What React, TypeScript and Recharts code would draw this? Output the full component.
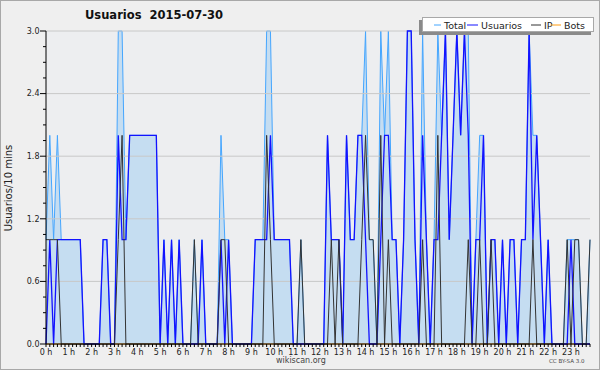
import React from 'react';
import { ComposedChart, Area, Line, XAxis, YAxis, CartesianGrid, ReferenceLine } from 'recharts';

// one sample every 10 minutes, 2015-07-30
const hours = ['0', '1', '2', '3', '4', '5', '6', '7', '8', '9', '10', '11',
  '12', '13', '14', '15', '16', '17', '18', '19', '20', '21', '22', '23'];
const minutes = ['00', '10', '20', '30', '40', '50'];
const slots = hours.flatMap((h) => minutes.map((m) => `${h.padStart(2, '0')}:${m}`));
const hourLabels = hours.map((h) => `${h} h`);

const total = [
  1, 2, 1, 2, 1, 1, 1, 1, 1, 1, 0, 0,
  0, 0, 0, 1, 1, 0, 0, 3, 3, 1, 2, 2,
  2, 2, 2, 2, 2, 2, 0, 1, 0, 1, 0, 1,
  0, 0, 0, 1, 0, 1, 0, 0, 0, 0, 2, 1,
  1, 0, 0, 0, 0, 0, 0, 1, 1, 1, 3, 3,
  1, 1, 1, 1, 1, 0, 0, 1, 0, 0, 0, 0,
  0, 0, 2, 1, 1, 1, 0, 2, 1, 1, 2, 2,
  3, 1, 1, 0, 3, 2, 3, 1, 1, 0, 1, 3,
  3, 1, 0, 3, 1, 0, 1, 3, 2, 3, 1, 2,
  3, 2, 3, 3, 0, 1, 2, 2, 0, 1, 1, 0,
  1, 0, 1, 1, 0, 1, 1, 3, 2, 2, 1, 0,
  1, 0, 0, 0, 0, 1, 1, 1, 1, 0, 0, 1,
];

const usuarios = [
  0, 1, 0, 1, 1, 1, 1, 1, 1, 1, 0, 0,
  0, 0, 0, 1, 1, 0, 0, 2, 1, 1, 2, 2,
  2, 2, 2, 2, 2, 2, 0, 1, 0, 1, 0, 1,
  0, 0, 0, 0, 0, 1, 0, 0, 0, 0, 1, 0,
  1, 0, 0, 0, 0, 0, 0, 1, 1, 1, 1, 2,
  1, 1, 1, 1, 1, 0, 0, 0, 0, 0, 0, 0,
  0, 0, 2, 1, 1, 1, 0, 2, 1, 1, 2, 2,
  1, 0, 0, 0, 1, 2, 2, 1, 1, 0, 1, 3,
  3, 1, 0, 2, 1, 0, 1, 1, 2, 3, 1, 2,
  3, 2, 3, 2, 0, 1, 1, 2, 0, 1, 1, 0,
  1, 0, 1, 1, 0, 1, 1, 3, 1, 2, 1, 0,
  1, 0, 0, 0, 0, 0, 1, 0, 0, 0, 0, 0,
];

const ip = [
  1, 1, 1, 1, 0, 0, 0, 0, 0, 0, 0, 0,
  0, 0, 0, 0, 0, 0, 0, 1, 2, 0, 0, 0,
  0, 0, 0, 0, 0, 0, 0, 0, 0, 0, 0, 0,
  0, 0, 0, 1, 0, 0, 0, 0, 0, 0, 1, 1,
  0, 0, 0, 0, 0, 0, 0, 0, 0, 0, 2, 1,
  0, 0, 0, 0, 0, 0, 0, 1, 0, 0, 0, 0,
  0, 0, 0, 1, 0, 1, 0, 0, 0, 0, 0, 1,
  2, 1, 1, 0, 2, 0, 1, 0, 0, 0, 0, 0,
  0, 0, 0, 1, 0, 0, 0, 2, 0, 0, 0, 0,
  0, 0, 0, 1, 0, 0, 1, 0, 0, 1, 0, 0,
  0, 0, 0, 0, 0, 0, 0, 0, 1, 0, 0, 0,
  0, 0, 0, 0, 0, 1, 0, 1, 1, 0, 0, 1,
];

const bots = [
  0, 0, 0, 0, 0, 0, 0, 0, 0, 0, 0, 0,
  0, 0, 0, 0, 0, 0, 0, 0, 0, 0, 0, 0,
  0, 0, 0, 0, 0, 0, 0, 0, 0, 0, 0, 0,
  0, 0, 0, 0, 0, 0, 0, 0, 0, 0, 0, 0,
  0, 0, 0, 0, 0, 0, 0, 0, 0, 0, 0, 0,
  0, 0, 0, 0, 0, 0, 0, 0, 0, 0, 0, 0,
  0, 0, 0, 0, 0, 0, 0, 0, 0, 0, 0, 0,
  0, 0, 0, 0, 0, 0, 0, 0, 0, 0, 0, 0,
  0, 0, 0, 0, 0, 0, 0, 0, 0, 0, 0, 0,
  0, 0, 0, 0, 0, 0, 0, 0, 0, 0, 0, 0,
  0, 0, 0, 0, 0, 0, 0, 0, 0, 0, 0, 0,
  0, 0, 0, 0, 0, 0, 0, 0, 0, 0, 0, 0,
];

const yTicks = [0, 0.15, 0.3, 0.45, 0.6, 0.75, 0.9, 1.05, 1.2, 1.35, 1.5, 1.65, 1.8,
  1.95, 2.1, 2.25, 2.4, 2.55, 2.7, 2.85, 3.0];
const yLabels = [0, 0.6, 1.2, 1.8, 2.4, 3.0];

const legendItems = [
  { name: 'Total', color: '#45a6ff' },
  { name: 'Usuarios', color: '#1212ff' },
  { name: 'IP', color: '#333333' },
  { name: 'Bots', color: '#ff9c10' },
];

const FONT = '"DejaVu Sans", sans-serif';

const data = slots.map((slot, i) => ({
  slot, total: total[i], usuarios: usuarios[i], ip: ip[i], bots: bots[i],
}));

function HourTick(props: any) {
  const { x, y, index } = props;
  const isHour = index % 6 === 0;
  return (
    <g>
      <line x1={x} x2={x} y1={y} y2={y + 3} stroke="#000" />
      {isHour && (
        <text x={x} y={y + 10.5} textAnchor="middle" fontSize={8} fill="#222" fontFamily={FONT}>
          {hourLabels[index / 6]}
        </text>
      )}
    </g>
  );
}

function CountTick(props: any) {
  const { x, y, payload } = props;
  const major = yLabels.some((v) => Math.abs(v - payload.value) < 1e-6);
  return (
    <g>
      <line x1={x - (major ? 6 : 3)} x2={x} y1={y} y2={y} stroke="#000" />
      {major && (
        <text x={x - 6.5} y={y} dy="0.35em" textAnchor="end" fontSize={8} fill="#222" fontFamily={FONT}>
          {payload.value.toFixed(1)}
        </text>
      )}
    </g>
  );
}

function LegendBox() {
  // x positions of each entry's sample line inside the box
  const starts = [16, 49, 113, 133];
  const lens = [7, 11, 10, 10];
  return (
    <svg width={182} height={24} style={{ position: 'absolute', left: 418, top: 14 }}>
      <rect x={1} y={6} width={172} height={15} fill="#8a8a8a" />
      <rect x={4.5} y={3.5} width={171} height={14} fill="#fff" stroke="#a8a8a8" />
      {legendItems.map((it, i) => (
        <g key={it.name}>
          <line x1={starts[i]} x2={starts[i] + lens[i]} y1={11} y2={11} stroke={it.color} strokeWidth={1} />
          <text x={starts[i] + lens[i] + 3} y={14.5} fontSize={9.5} fill="#222" fontFamily={FONT}>{it.name}</text>
        </g>
      ))}
    </svg>
  );
}

export default function App() {
  return (
    <div style={{ position: 'absolute', left: 0, top: 0, width: 600, height: 370, background: '#efefef', fontFamily: FONT }}>
      <ComposedChart width={600} height={370} data={data} margin={{ top: 31, right: 10, bottom: 4, left: 0 }}>
        <CartesianGrid horizontal={false} vertical={false} fill="#edeef0" />
        {yLabels.map((v) => (
          <ReferenceLine key={v} y={v} stroke="#c8c8c8" />
        ))}
        <Area type="linear" dataKey="total" name="Total" stroke="#45a6ff" strokeWidth={1}
          fill="#9ecbf1" fillOpacity={0.5} isAnimationActive={false} dot={false} />
        <Line type="linear" dataKey="bots" name="Bots" stroke="#ff9c10" strokeWidth={1}
          dot={false} isAnimationActive={false} />
        <Line type="linear" dataKey="usuarios" name="Usuarios" stroke="#1212ff" strokeWidth={1.3}
          dot={false} isAnimationActive={false} />
        <Line type="linear" dataKey="ip" name="IP" stroke="#333333" strokeWidth={1}
          dot={false} isAnimationActive={false} />
        <XAxis dataKey="slot" interval={0} height={22} tickLine={false} tickSize={0} tickMargin={0}
          axisLine={{ stroke: '#000' }} tick={<HourTick />} />
        <YAxis type="number" domain={[0, 3]} ticks={yTicks} interval={0} width={46}
          tickLine={false} tickSize={0} tickMargin={0} axisLine={{ stroke: '#000' }} tick={<CountTick />} />
      </ComposedChart>
      <div style={{ position: 'absolute', left: 85, top: 8, fontSize: 11.5, fontWeight: 'bold', whiteSpace: 'pre', color: '#111' }}>
        {'Usuarios  2015-07-30'}
      </div>
      <div style={{ position: 'absolute', left: 8, top: 188, width: 0, height: 0 }}>
        <div style={{ position: 'absolute', transform: 'translate(-50%, -50%) rotate(-90deg)', fontSize: 10, whiteSpace: 'nowrap', color: '#222' }}>
          Usuarios/10 mins
        </div>
      </div>
      <div style={{ position: 'absolute', left: 276, top: 356, fontSize: 8, color: '#444' }}>wikiscan.org</div>
      <div style={{ position: 'absolute', left: 549, top: 358, fontSize: 5.5, color: '#444', whiteSpace: 'nowrap' }}>CC BY-SA 3.0</div>
      <LegendBox />
      <div style={{ position: 'absolute', left: 0, top: 0, width: 598, height: 368, border: '1px solid #a8a8a8', pointerEvents: 'none' }} />
    </div>
  );
}
